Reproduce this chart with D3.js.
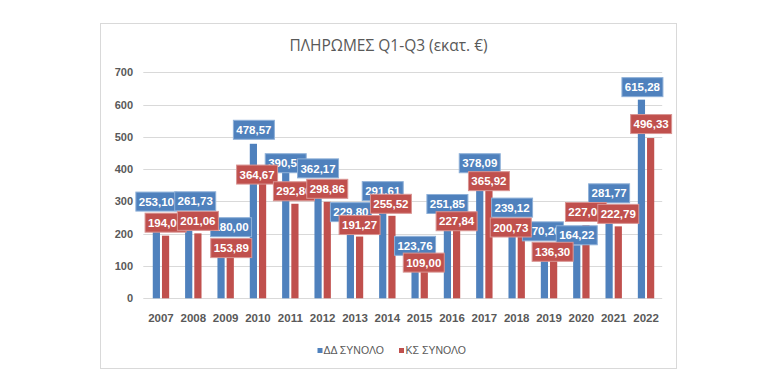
<!DOCTYPE html>
<html>
<head>
<meta charset="utf-8">
<script src="https://cdn.jsdelivr.net/npm/d3@7"></script>
<style>
  html, body { margin: 0; padding: 0; background: #fff; }
  svg { display: block; }
</style>
</head>
<body>
<svg id="chart" width="776" height="392"></svg>
<script>
// ---- data ----
const categories = ["2007","2008","2009","2010","2011","2012","2013","2014","2015","2016","2017","2018","2019","2020","2021","2022"];
const seriesNames = ["ΔΔ ΣΥΝΟΛΟ", "ΚΣ ΣΥΝΟΛΟ"];
const ddValues = [253.10, 261.73, 180.00, 478.57, 390.55, 362.17, 229.80, 291.61, 123.76, 251.85, 378.09, 239.12, 170.20, 164.22, 281.77, 615.28];
const ksValues = [194.00, 201.06, 153.89, 364.67, 292.80, 298.86, 191.27, 255.52, 109.00, 227.84, 365.92, 200.73, 136.30, 227.00, 222.79, 496.33];
const yTicks = [0, 100, 200, 300, 400, 500, 600, 700];
const titleText = "ΠΛΗΡΩΜΕΣ Q1-Q3 (εκατ. €)";

// ---- layout (manual label nudges, as moved in the original) ----
const ddNudge = [[0,-2],[6.5,0.5],[10,0],[0.5,-1],[0,4],[0,0],[0.5,1],[0,0],[0,0.5],[0,0],[0,0],[0,-0.5],[-1.5,1],[0,3],[0,-1],[1,0.5]];
const ksNudge = [[0,0],[0,0.5],[1,12.5],[-5.5,7],[-1,0.5],[0,0],[0,1.5],[-1,1],[-0.5,12.5],[0,9.5],[0,14],[-10.5,7],[-1,10.5],[0,0],[0,0.5],[0.5,-1]];

const colors = ["#4f81bd", "#c0504d"];
const labelStroke = ["#8eb0d8", "#d99593"];
const textGray = "#595959";
const gridColor = "#d9d9d9";

const svg = d3.select("#chart");

// frame
svg.append("rect")
  .attr("x", 100.5).attr("y", 23.5)
  .attr("width", 576).attr("height", 345)
  .attr("fill", "#fff").attr("stroke", gridColor).attr("stroke-width", 1);

// title
svg.append("text")
  .attr("x", 388.5).attr("y", 51)
  .attr("text-anchor", "middle")
  .attr("font-family", "'Open Sans', 'Noto Sans', sans-serif")
  .attr("font-size", 15.5)
  .attr("fill", textGray)
  .text(titleText);

// scales
const x = d3.scaleBand().domain(categories).range([144.8, 662.2]).padding(0);
const inner = d3.scaleBand().domain([0, 1]).range([0, 16.4]).paddingInner(0.217).paddingOuter(0);
const innerOffset = (x.bandwidth() - 16.4) / 2;
const y = d3.scaleLinear().domain([0, 700]).range([298.3, 72.3]);

// gridlines
svg.append("g").selectAll("line")
  .data(yTicks).join("line")
  .attr("x1", 143.3).attr("x2", 662.2)
  .attr("y1", d => Math.round(y(d)) + 0.5).attr("y2", d => Math.round(y(d)) + 0.5)
  .attr("stroke", gridColor).attr("stroke-width", 1);

// y axis labels
const yAxis = d3.axisLeft(y).tickValues(yTicks).tickSize(0).tickPadding(0).tickFormat(d3.format("d"));
const yg = svg.append("g").attr("transform", "translate(133,0)").call(yAxis);
yg.select(".domain").remove();
yg.selectAll("text")
  .attr("font-family", "'Liberation Sans', Arial, sans-serif")
  .attr("font-size", 11).attr("font-weight", "bold")
  .attr("fill", textGray);

// x axis labels
const xAxis = d3.axisBottom(x).tickSize(0).tickPadding(0);
const xg = svg.append("g").attr("transform", "translate(0,313.5)").call(xAxis);
xg.select(".domain").remove();
xg.selectAll("text")
  .attr("font-family", "'Liberation Sans', Arial, sans-serif")
  .attr("font-size", 11.5).attr("font-weight", "bold")
  .attr("fill", textGray);

const series = [ddValues, ksValues];
const nudges = [ddNudge, ksNudge];

// bars
series.forEach((vals, s) => {
  svg.append("g").selectAll("rect")
    .data(vals).join("rect")
    .attr("x", (d, i) => x(categories[i]) + innerOffset + inner(s))
    .attr("width", inner.bandwidth())
    .attr("y", d => y(d))
    .attr("height", d => y(0) - y(d))
    .attr("fill", colors[s]);
});

// data labels (blue first, then red on top)
const fmt = d => d.toFixed(2).replace(".", ",");
const boxW = 41, boxH = 19;
series.forEach((vals, s) => {
  const g = svg.append("g");
  vals.forEach((d, i) => {
    const cx = x(categories[i]) + innerOffset + inner(s) + inner.bandwidth() / 2 + nudges[s][i][0];
    const cy = y(d) - 13 + nudges[s][i][1];
    g.append("rect")
      .attr("x", cx - boxW / 2).attr("y", cy - boxH / 2)
      .attr("width", boxW).attr("height", boxH)
      .attr("fill", colors[s]).attr("stroke", labelStroke[s]).attr("stroke-width", 1);
    g.append("text")
      .attr("x", cx).attr("y", cy)
      .attr("dy", "0.36em")
      .attr("text-anchor", "middle")
      .attr("font-family", "'Liberation Sans', Arial, sans-serif")
      .attr("font-size", 11.5).attr("font-weight", "bold")
      .attr("fill", "#fff")
      .text(fmt(d));
  });
});

// legend
const legend = svg.append("g");
const legendItems = [{x: 317.5, tx: 323.5}, {x: 399, tx: 405.5}];
seriesNames.forEach((name, s) => {
  legend.append("rect")
    .attr("x", legendItems[s].x).attr("y", 348)
    .attr("width", 5).attr("height", 5)
    .attr("fill", colors[s]);
  legend.append("text")
    .attr("x", legendItems[s].tx).attr("y", 350.5)
    .attr("dy", "0.36em")
    .attr("font-family", "'Liberation Sans', Arial, sans-serif")
    .attr("font-size", 10.5)
    .attr("fill", textGray)
    .text(name);
});
</script>
</body>
</html>
